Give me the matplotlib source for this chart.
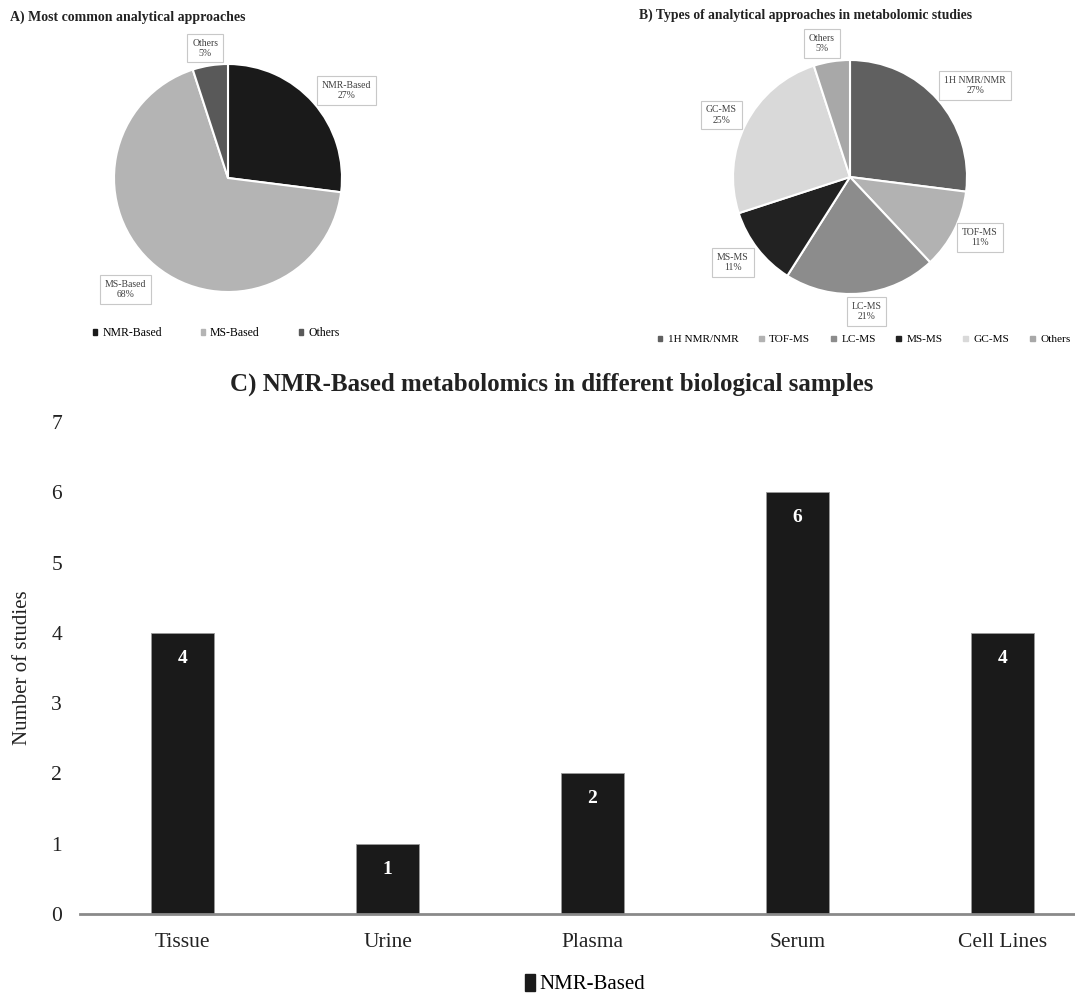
import matplotlib
matplotlib.use("Agg")
import matplotlib.pyplot as plt
from matplotlib.patches import Patch

plt.rcParams['font.family'] = ['Liberation Serif', 'DejaVu Serif']

# Data
a_labels = ['NMR-Based', 'MS-Based', 'Others']
a_values = [27, 68, 5]
a_colors = ['#1a1a1a', '#b4b4b4', '#595959']
a_label_pos = [(1.04, 0.77), (-0.90, -0.98), (-0.20, 1.14)]

b_labels = ['1H NMR/NMR', 'TOF-MS', 'LC-MS', 'MS-MS', 'GC-MS', 'Others']
b_values = [27, 11, 21, 11, 25, 5]
b_colors = ['#606060', '#b2b2b2', '#8c8c8c', '#222222', '#d9d9d9', '#a8a8a8']
b_label_pos = [(1.07, 0.78), (1.11, -0.52), (0.14, -1.15), (-1.0, -0.73), (-1.10, 0.53), (-0.24, 1.14)]

c_categories = ['Tissue', 'Urine', 'Plasma', 'Serum', 'Cell Lines']
c_values = [4, 1, 2, 6, 4]

W, H = 1075, 999
fig = plt.figure(figsize=(W / 100, H / 100), dpi=100)


def pie_axes(cx, cy, r):
    return fig.add_axes([(cx - r) / W, 1 - (cy + r) / H, 2 * r / W, 2 * r / H])


def draw_pie(ax, values, colors, labels, pos):
    ax.pie(values, colors=colors, startangle=90, counterclock=False,
           wedgeprops=dict(edgecolor='white', linewidth=1.5), radius=1)
    ax.set_xlim(-1, 1)
    ax.set_ylim(-1, 1)
    ax.set_aspect('auto')
    for lab, v, (x, y) in zip(labels, values, pos):
        ax.text(x, y, '%s\n%d%%' % (lab, v), ha='center', va='center', fontsize=7,
                color='#404040', linespacing=1.15,
                bbox=dict(boxstyle='square,pad=0.5', fc='white', ec='#c8c8c8', lw=0.8))


# A) pie
axA = pie_axes(228, 178, 114)
draw_pie(axA, a_values, a_colors, a_labels, a_label_pos)
fig.text(10 / W, 1 - 17 / H, 'A) Most common analytical approaches', fontsize=10,
         fontweight='bold', ha='left', va='center', color='#222222')
fig.legend(handles=[Patch(color=c, label=l) for c, l in zip(a_colors, a_labels)],
           loc='center', bbox_to_anchor=(216 / W, 1 - 333 / H), ncol=3, frameon=False,
           fontsize=8.5, handlelength=0.4, handleheight=0.4, columnspacing=3.3,
           handletextpad=0.4)

# B) pie
axB = pie_axes(850, 177, 117)
draw_pie(axB, b_values, b_colors, b_labels, b_label_pos)
fig.text(806 / W, 1 - 15 / H, 'B) Types of analytical approaches in metabolomic studies',
         fontsize=9.8, fontweight='bold', ha='center', va='center', color='#222222')
fig.legend(handles=[Patch(color=c, label=l) for c, l in zip(b_colors, b_labels)],
           loc='center', bbox_to_anchor=(864 / W, 1 - 340 / H), ncol=6, frameon=False,
           fontsize=8.1, handlelength=0.4, handleheight=0.4, columnspacing=1.85,
           handletextpad=0.5, borderaxespad=0, borderpad=0)

# C) bar chart
axC = fig.add_axes([80 / W, 1 - 914 / H, (W - 80) / W, (914 - 422) / H])
x = range(len(c_categories))
bars = axC.bar(x, c_values, width=0.31, color='#1a1a1a', edgecolor='#9a9a9a',
               linewidth=0.6, label='NMR-Based')
for b, v in zip(bars, c_values):
    axC.text(b.get_x() + b.get_width() / 2, v - 0.36, str(v), ha='center', va='center',
             color='white', fontsize=14, fontweight='bold')
axC.set_xlim(-0.5, 4.5 - 30 / 205)
axC.set_ylim(0, 7)
axC.set_xticks(list(x))
axC.set_xticklabels(c_categories, fontsize=15.5)
axC.set_yticks(range(0, 8))
axC.tick_params(axis='both', length=0, labelsize=15.5, colors='#222222')
axC.tick_params(axis='x', pad=14)
axC.tick_params(axis='y', pad=13)
for s in ['top', 'right', 'left']:
    axC.spines[s].set_visible(False)
axC.spines['bottom'].set_color('#8a8a8a')
axC.spines['bottom'].set_linewidth(2)
axC.set_ylabel('Number of studies', fontsize=15, labelpad=14, color='#222222')
fig.text(552 / W, 1 - 384 / H, 'C) NMR-Based metabolomics in different biological samples',
         fontsize=18, fontweight='bold', ha='center', va='center', color='#222222')
fig.legend(handles=[Patch(color='#1a1a1a', label='NMR-Based')], loc='center',
           bbox_to_anchor=(585 / W, 1 - 984 / H), frameon=False, fontsize=15,
           handlelength=0.45, handleheight=0.9, handletextpad=0.2)

fig.savefig('out.png', dpi=100)
